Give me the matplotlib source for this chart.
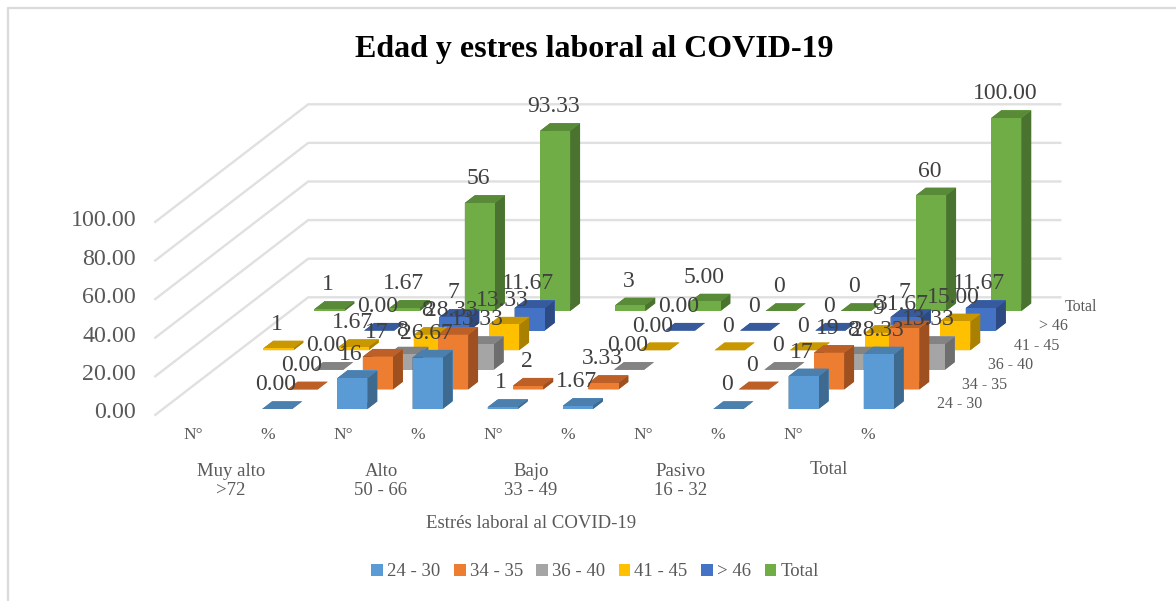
import numpy as np
import matplotlib
matplotlib.use("Agg")
import matplotlib.pyplot as plt
from matplotlib.colors import to_rgba
from matplotlib.lines import Line2D
from matplotlib.patches import Patch

# ---- data ----
nan = np.nan
series_names = ["24 - 30", "34 - 35", "36 - 40", "41 - 45", "> 46", "Total"]
sub_labels = ["N°", "%", "N°", "%", "N°", "%", "N°", "%", "N°", "%"]
group_labels = ["Muy alto\n>72", "Alto\n50 - 66", "Bajo\n33 - 49", "Pasivo\n16 - 32", "Total"]
age_24_30 = [nan, 0.00, 16, 26.67, 1, 1.67, nan, 0, 17, 28.33]
age_34_35 = [nan, 0.00, 17, 28.33, 2, 3.33, nan, 0, 19, 31.67]
age_36_40 = [nan, 0.00, 8, 13.33, nan, 0.00, nan, 0, 8, 13.33]
age_41_45 = [1, 1.67, 8, 13.33, nan, 0.00, 0, 0, 9, 15.00]
age_46 = [nan, 0.00, 7, 11.67, nan, 0.00, 0, 0, 7, 11.67]
age_total = [1, 1.67, 56, 93.33, 3, 5.00, 0, 0, 60, 100.00]
all_series = [age_24_30, age_34_35, age_36_40, age_41_45, age_46, age_total]
y_ticks = [0, 20, 40, 60, 80, 100]
two_decimals = {1, 3, 5, 9}

front_c = ["#5B9BD5", "#ED7D31", "#A5A5A5", "#FFC000", "#4472C4", "#70AD47"]
top_c = ["#4A7FAE", "#BC6027", "#838383", "#C99700", "#365A9C", "#588A38"]
side_c = ["#3E6A90", "#9E5020", "#6E6E6E", "#A98000", "#2D4B82", "#4A732F"]

W, H = 1176, 601
plt.rcParams["font.family"] = ["Liberation Serif", "DejaVu Serif"]
fig = plt.figure(figsize=(W / 100, H / 100), dpi=100, facecolor="white")
ax = fig.add_axes([0, 0, 1, 1], projection="3d")
ax.apply_aspect = lambda position=None: None
ax.set_axis_off()
ax.patch.set_visible(False)

# oblique projection like the spreadsheet's 3D column chart (world -> pixels)
OX, OY, DX, DR_X, DR_Y, DZ = 202.0, 409.0, 75.2, 25.5, 19.6, 1.93


def project(x, y, z):
    return OX + DX * x + DR_X * y, OY - DR_Y * y - DZ * z


def oblique_proj():
    inv = ax.transData.inverted()
    a0, b0 = inv.transform((0, 0))
    a1, b1 = inv.transform((W, H))
    sx, sy = (a1 - a0) / W, (b1 - b0) / H
    return np.array([
        [sx * DX, sx * DR_X, 0, a0 + sx * OX],
        [0, sy * DR_Y, sy * DZ, b0 + sy * (H - OY)],
        [-0.001, 1.0, -0.0001, 0],
        [0, 0, 0, 1.0],
    ])


ax.get_proj = oblique_proj


def px_line(pts, **kw):
    fx = [p[0] / W for p in pts]
    fy = [1 - p[1] / H for p in pts]
    fig.add_artist(Line2D(fx, fy, transform=fig.transFigure, zorder=-1, **kw))


# walls
XL, XR, YF, YB = -0.52, 9.48, -0.3, 5.7
for tick in y_ticks:
    px_line([project(XL, YF, tick), project(XL, YB, tick), project(XR, YB, tick)],
            color="#E0E0E0", lw=1.7)

# chart border (left and top only)
px_line([(7.5, H), (7.5, 8), (W, 8)], color="#DADADA", lw=1.6)

# bars
BW, BD = 0.40, 0.39
xs, ys, dz, cols = [], [], [], []
for r, vals in enumerate(all_series):
    for i, v in enumerate(vals):
        if np.isnan(v):
            continue
        xs.append(i - BW / 2)
        ys.append(r)
        dz.append(v)
        cols += [to_rgba(top_c[r]), to_rgba(top_c[r]), to_rgba(front_c[r]),
                 to_rgba(front_c[r]), to_rgba(side_c[r]), to_rgba(side_c[r])]
ax.bar3d(xs, ys, np.zeros(len(xs)), BW, BD, dz, color=cols, shade=False, linewidth=0)


def t(px, py, s, **kw):
    kw.setdefault("ha", "center")
    kw.setdefault("va", "center")
    return fig.text(px / W, 1 - py / H, s, **kw)


# data labels
for r, vals in enumerate(all_series):
    for i, v in enumerate(vals):
        if np.isnan(v):
            continue
        s = f"{v:.2f}" if i in two_decimals else f"{v:.0f}"
        px, py = project(i - 0.02, r, v + 13)
        t(px, py + 1, s, fontsize=17, color="#404040", zorder=100)

t(594, 50, "Edad y estres laboral al COVID-19", fontsize=23, fontweight="bold", color="black")
for v in y_ticks:
    t(136, 413 - v * 1.92, f"{v:.2f}", ha="right", fontsize=17.3, color="#595959")
for i, s in enumerate(sub_labels):
    t(193 + 75 * i, 435, s, fontsize=12.5, color="#595959")
for i, s in enumerate(group_labels):
    t(231 + 150 * i - (2 if i == 4 else 0), 481 if "\n" in s else 470, s,
      fontsize=13.5, color="#595959", linespacing=1.22)
t(531.5, 524, "Estrés laboral al COVID-19", fontsize=13.5, color="#595959")
for r, s in enumerate(series_names):
    t(937 + 25.5 * r, 404 - 19.4 * r, s, ha="left", fontsize=11.5, color="#595959")

handles = [Patch(facecolor=c, edgecolor="none") for c in front_c]
fig.legend(handles, series_names, loc="center", bbox_to_anchor=(595 / W, 1 - 572 / H), ncol=6,
           frameon=False, fontsize=13.5, handlelength=0.62, handleheight=0.62,
           handletextpad=0.22, columnspacing=0.72, labelcolor="#595959")

fig.savefig("out.png", dpi=100)
